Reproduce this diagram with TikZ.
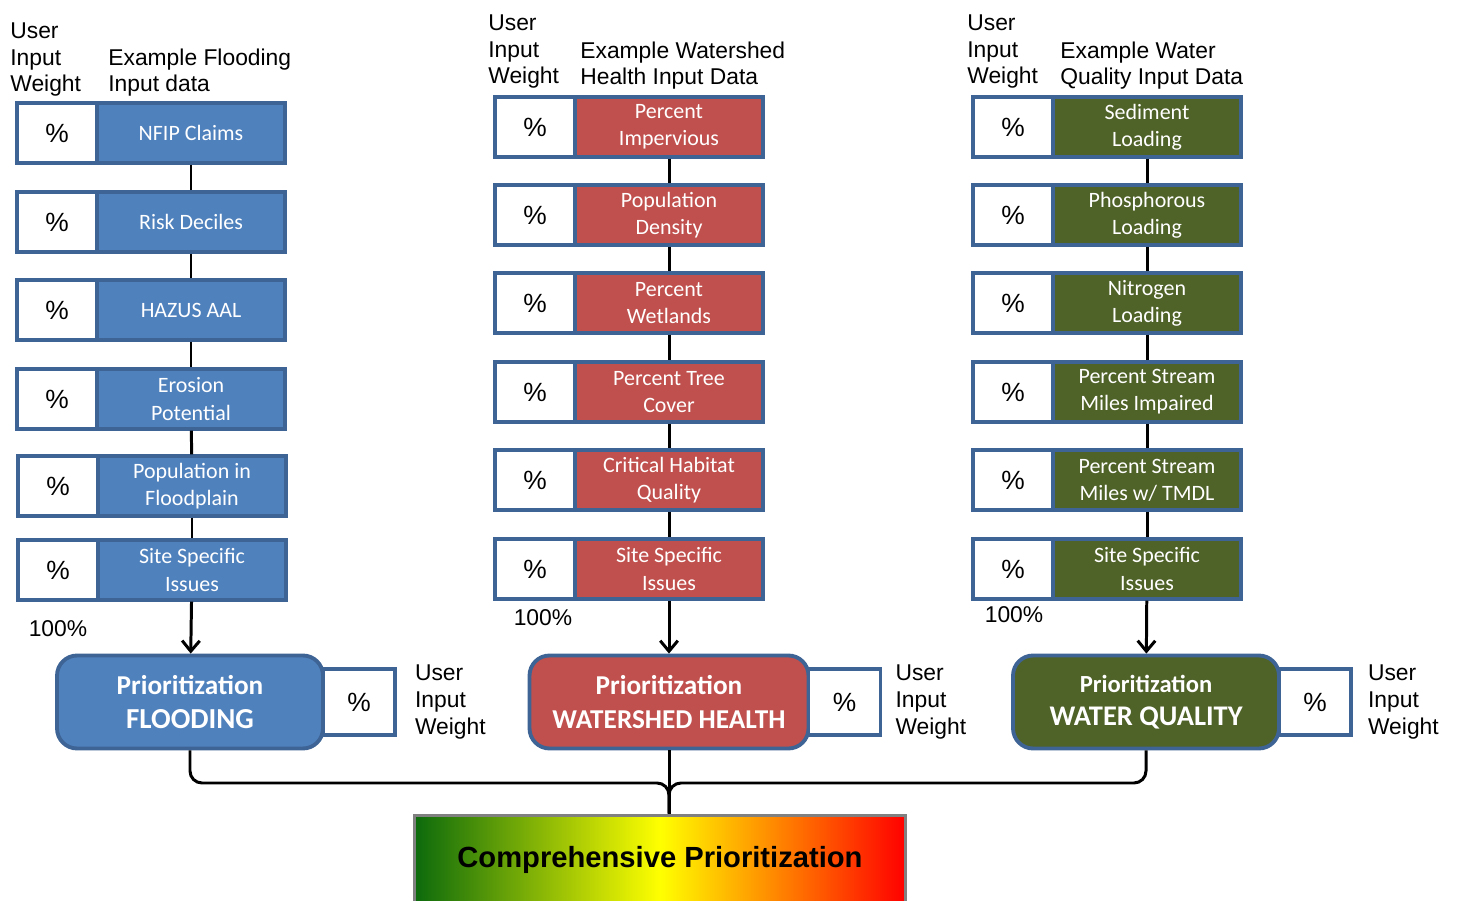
\documentclass[tikz,border=0pt]{standalone}
\usepackage{fontspec}
\setmainfont{Liberation Sans}
\newfontfamily\calibri{Carlito}
\usetikzlibrary{positioning,arrows.meta}
\definecolor{edgeblue}{HTML}{3E6496}
\definecolor{floodblue}{HTML}{4F81BD}
\definecolor{shedred}{HTML}{C0504D}
\definecolor{qualgreen}{HTML}{4F6228}
\definecolor{rampgreen}{HTML}{0C6A0C}

\begin{document}
\begin{tikzpicture}[x=0.02cm, y=-0.02cm,
    cell/.style={draw=edgeblue, line width=1.9pt, minimum height=1.2cm, inner sep=0pt},
    pct/.style={cell, fill=white, minimum width=1.6cm, font=\fontsize{15}{17}\selectfont},
    data/.style={cell, minimum width=3.76cm, text=white, align=center, font=\calibri\fontsize{12.5}{15.5}\selectfont},
    prio/.style={draw=edgeblue, line width=2.2pt, rounded corners=0.4cm, minimum height=1.86cm, text=white, align=center, font=\calibri\bfseries\fontsize{15.5}{19}\selectfont},
    weight/.style={draw=edgeblue, line width=1.9pt, fill=white, minimum width=1.44cm, minimum height=1.32cm, inner sep=0pt, font=\fontsize{15}{17}\selectfont},
    note/.style={align=left, inner sep=0pt, font=\fontsize{13}{15.3}\selectfont},
    comp/.style={draw=gray, line width=1.7pt, left color=rampgreen, right color=red, middle color=yellow, minimum width=9.82cm, minimum height=1.8cm, font=\bfseries\fontsize{16.6}{20}\selectfont},
    link/.style={line width=1.7pt},
    feed/.style={line width=1.7pt, -{Straight Barb[length=6pt,width=10pt]}}
]
    \useasboundingbox (0,0) rectangle (1460,901);

    \node[note, anchor=south west] (uiwF) at (10,97) {User\\Input\\Weight};
    \node[note, anchor=south west] (exF) at (108,97) {Example Flooding\\Input data};
    \node[note, anchor=south west] (uiwW) at (488,89) {User\\Input\\Weight};
    \node[note, anchor=south west] (exW) at (580,90) {Example Watershed\\Health Input Data};
    \node[note, anchor=south west] (uiwQ) at (967,89) {User\\Input\\Weight};
    \node[note, anchor=south west] (exQ) at (1060,90) {Example Water\\Quality Input Data};

    \node[data, fill=floodblue] (inF1) at (191,133) {NFIP Claims};
    \node[data, fill=floodblue] (inF2) at (191,222) {Risk Deciles};
    \node[data, fill=floodblue] (inF3) at (191,310) {HAZUS AAL};
    \node[data, fill=floodblue] (inF4) at (191,399) {Erosion\\Potential};
    \node[data, fill=floodblue] (inF5) at (192,486) {Population in\\Floodplain};
    \node[data, fill=floodblue] (inF6) at (192,570) {Site Specific\\Issues};
    \node[pct, left=-1.9pt of inF1] (wF1) {\%};
    \node[pct, left=-1.9pt of inF2] (wF2) {\%};
    \node[pct, left=-1.9pt of inF3] (wF3) {\%};
    \node[pct, left=-1.9pt of inF4] (wF4) {\%};
    \node[pct, left=-1.9pt of inF5] (wF5) {\%};
    \node[pct, left=-1.9pt of inF6] (wF6) {\%};

    \node[data, fill=shedred] (inW1) at (669,127) {Percent\\Impervious};
    \node[data, fill=shedred] (inW2) at (669,215) {Population\\Density};
    \node[data, fill=shedred] (inW3) at (669,303) {Percent\\Wetlands};
    \node[data, fill=shedred] (inW4) at (669,392) {Percent Tree\\Cover};
    \node[data, fill=shedred] (inW5) at (669,480) {Critical Habitat\\Quality};
    \node[data, fill=shedred] (inW6) at (669,569) {Site Specific\\Issues};
    \node[pct, left=-1.9pt of inW1] (wW1) {\%};
    \node[pct, left=-1.9pt of inW2] (wW2) {\%};
    \node[pct, left=-1.9pt of inW3] (wW3) {\%};
    \node[pct, left=-1.9pt of inW4] (wW4) {\%};
    \node[pct, left=-1.9pt of inW5] (wW5) {\%};
    \node[pct, left=-1.9pt of inW6] (wW6) {\%};

    \node[data, fill=qualgreen] (inQ1) at (1147,127) {Sediment\\Loading};
    \node[data, fill=qualgreen] (inQ2) at (1147,215) {Phosphorous\\Loading};
    \node[data, fill=qualgreen] (inQ3) at (1147,303) {Nitrogen\\Loading};
    \node[data, fill=qualgreen] (inQ4) at (1147,392) {Percent Stream\\Miles Impaired};
    \node[data, fill=qualgreen] (inQ5) at (1147,480) {Percent Stream\\Miles w/ TMDL};
    \node[data, fill=qualgreen] (inQ6) at (1147,569) {Site Specific\\Issues};
    \node[pct, left=-1.9pt of inQ1] (wQ1) {\%};
    \node[pct, left=-1.9pt of inQ2] (wQ2) {\%};
    \node[pct, left=-1.9pt of inQ3] (wQ3) {\%};
    \node[pct, left=-1.9pt of inQ4] (wQ4) {\%};
    \node[pct, left=-1.9pt of inQ5] (wQ5) {\%};
    \node[pct, left=-1.9pt of inQ6] (wQ6) {\%};

    \node[note] (sumF) at (58,629) {100\%};
    \node[note] (sumW) at (543,618) {100\%};
    \node[note] (sumQ) at (1014,615) {100\%};

    \node[prio, fill=floodblue, minimum width=5.32cm] (prioF) at (190,702) {Prioritization\\{\fontsize{16.5}{19}\selectfont FLOODING}};
    \node[prio, fill=shedred, minimum width=5.58cm] (prioW) at (669,702) {Prioritization\\WATERSHED HEALTH};
    \node[prio, fill=qualgreen, minimum width=5.32cm] (prioQ) at (1146,702) {{\fontsize{14}{19}\selectfont Prioritization}\\{\fontsize{16.2}{19}\selectfont WATER QUALITY}};
    \node[weight, right=-2pt of prioF] (pctF) {\%};
    \node[weight, right=-2pt of prioW] (pctW) {\%};
    \node[weight, right=-2pt of prioQ] (pctQ) {\%};
    \node[note, right=0.36cm of pctF] (uwF) {User\\Input\\Weight};
    \node[note, right=0.26cm of pctW] (uwW) {User\\Input\\Weight};
    \node[note, right=0.3cm of pctQ] (uwQ) {User\\Input\\Weight};

    \node[comp] (comp) at (660,860) {Comprehensive Prioritization};
    \coordinate (join) at (669,783);

    \draw[link] (inF1) -- (inF2);
    \draw[link] (inF2) -- (inF3);
    \draw[link] (inF3) -- (inF4);
    \draw[link] (inF4) -- (inF5);
    \draw[link] (inF5) -- (inF6);
    \draw[link] (inW1) -- (inW2);
    \draw[link] (inW2) -- (inW3);
    \draw[link] (inW3) -- (inW4);
    \draw[link] (inW4) -- (inW5);
    \draw[link] (inW5) -- (inW6);
    \draw[link] (inQ1) -- (inQ2);
    \draw[link] (inQ2) -- (inQ3);
    \draw[link] (inQ3) -- (inQ4);
    \draw[link] (inQ4) -- (inQ5);
    \draw[link] (inQ5) -- (inQ6);

    \draw[feed] (inF6) -- (prioF);
    \draw[feed] (inW6) -- (prioW);
    \draw[feed] (inQ6) -- (prioQ);

    \draw[link, rounded corners=0.24cm] (prioF.south) |- (join) -- (join |- comp.north);
    \draw[link, rounded corners=0.24cm] (prioQ.south) |- (join) -- (join |- comp.north);
    \draw[link] (prioW.south) -- (join |- comp.north);
\end{tikzpicture}
\end{document}
